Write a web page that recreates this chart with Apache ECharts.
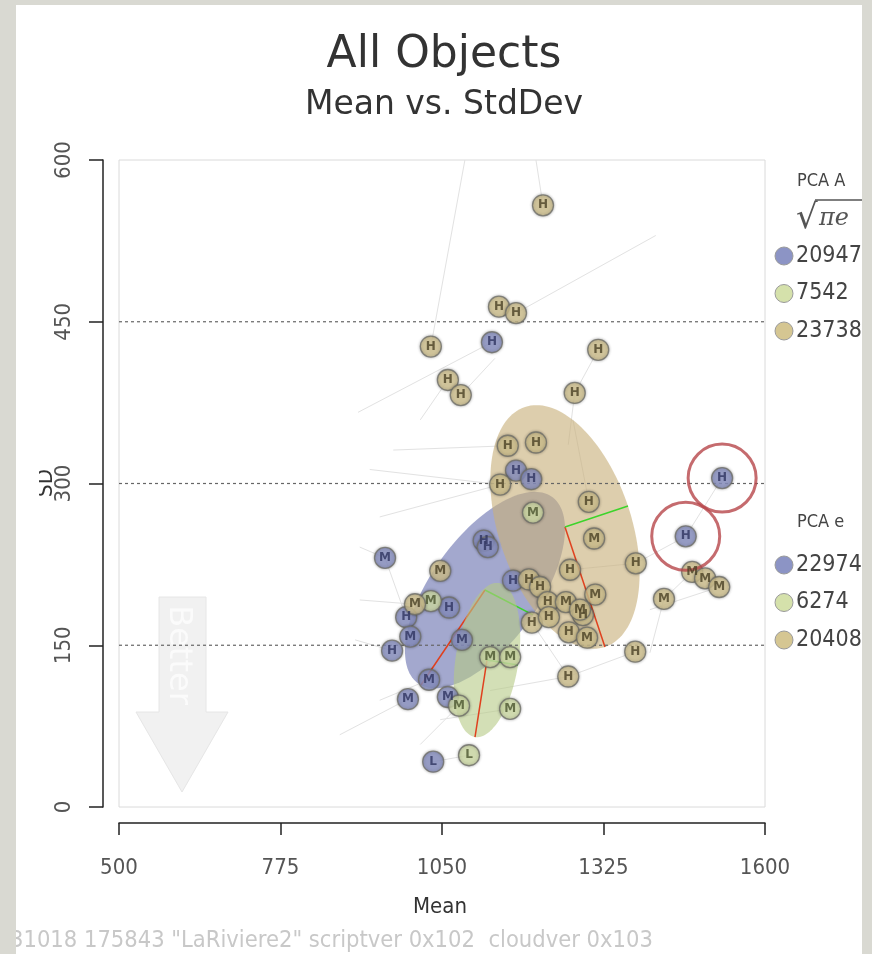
<!DOCTYPE html>
<html>
<head>
<meta charset="utf-8">
<script src="https://cdn.jsdelivr.net/npm/echarts@6/dist/echarts.min.js"></script>
<style>
  html, body { margin: 0; padding: 0; background: #d9d9d2; }
  #chart { width: 872px; height: 954px; }
</style>
</head>
<body>
<div id="chart"></div>
<script>
// Axis ticks and reference levels
const xTicks = [500, 775, 1050, 1325, 1600];
const yTicks = [0, 150, 300, 450, 600];
const refLines = [150, 300, 450];

// Objects per cluster: [mean, stdDev, class letter]
const clusterBlue = [
  [1135, 431, 'H'], [1121, 247, 'H'], [1128, 241, 'H'], [953, 231, 'M'],
  [1171, 210, 'H'], [1062, 185, 'H'], [989, 176, 'H'], [996, 158, 'M'],
  [965, 145, 'H'], [1028, 118, 'M'], [992, 100, 'M'], [1060, 102, 'M'],
  [1527, 305, 'H'], [1465, 251, 'H'], [1176, 312, 'H'], [1202, 304, 'H'],
  [1084, 155, 'M'], [1035, 42, 'L']
];
const clusterGreen = [
  [1031, 191, 'M'], [1132, 139, 'M'], [1166, 139, 'M'], [1079, 94, 'M'],
  [1166, 91, 'M'], [1096, 48, 'L'], [1205, 273, 'M']
];
const clusterTan = [
  [1222, 558, 'H'], [1147, 464, 'H'], [1176, 458, 'H'], [1031, 427, 'H'],
  [1316, 424, 'H'], [1060, 396, 'H'], [1082, 382, 'H'], [1276, 384, 'H'],
  [1162, 335, 'H'], [1210, 338, 'H'], [1149, 299, 'H'], [1300, 283, 'H'],
  [1309, 249, 'M'], [1380, 226, 'H'], [1047, 219, 'M'], [1268, 220, 'H'],
  [1198, 211, 'H'], [1217, 204, 'H'], [1230, 190, 'H'], [1261, 190, 'M'],
  [1290, 178, 'H'], [1311, 197, 'M'], [1004, 188, 'M'], [1203, 171, 'H'],
  [1266, 162, 'H'], [1297, 157, 'M'], [1428, 193, 'M'], [1379, 144, 'H'],
  [1265, 121, 'H'], [1476, 218, 'M'], [1498, 212, 'M'], [1522, 204, 'M'],
  [1232, 176, 'H'], [1285, 183, 'M']
];
// Objects singled out with a ring (indices into clusterBlue)
const flaggedIdx = [12, 13];

// Principal-component ellipses: [centre mean, centre sd, major end mean, major end sd, minor end mean, minor end sd]
const ellipseBlue = [1123.2, 201.2, 1014.2, 113.1, 1204.9, 178.1];
const ellipseGreen = [1126.6, 136.3, 1106.2, 64.9, 1179.4, 131.7];
const ellipseTan = [1259.4, 259.7, 1327.5, 148.4, 1366.7, 279.1];

// Faint neighbour links: [mean1, sd1, mean2, sd2]
const links = [
  [1031, 427, 1089, 600], [1222, 558, 1210, 600], [1176, 458, 1414, 530],
  [1135, 431, 907, 366], [1316, 424, 1276, 384], [1276, 384, 1265, 336],
  [1082, 382, 1140, 416], [1060, 396, 1013, 359], [1162, 335, 967, 331],
  [1149, 299, 944, 269], [953, 231, 910, 241], [1527, 305, 1465, 251],
  [1465, 251, 1380, 226], [1428, 193, 1404, 143], [1379, 144, 1265, 121],
  [1265, 121, 1132, 108], [992, 100, 876, 67], [965, 145, 902, 155],
  [1476, 218, 1428, 193], [1300, 283, 1273, 359], [1380, 226, 1268, 220],
  [1166, 91, 1047, 81], [1028, 118, 944, 99], [1149, 299, 927, 313],
  [953, 231, 989, 176], [1004, 188, 910, 192], [1035, 42, 1096, 48],
  [1079, 94, 1013, 58], [1203, 171, 1265, 121], [1522, 204, 1404, 183]
];

// Legend blocks
const legendTopTitle = 'PCA A';
const legendTopValues = ['20947', '7542', '23738'];
const legendBottomTitle = 'PCA e';
const legendBottomValues = ['22974', '6274', '20408'];
const footerText = '31018 175843 "LaRiviere2" scriptver 0x102  cloudver 0x103';

const FONT = "'DejaVu Sans Condensed', 'DejaVu Sans', sans-serif";
const TITLE_FONT = "'DejaVu Sans', sans-serif";
const COLORS = { blue: '#8c94c5', green: '#d5e1ab', tan: '#d5c692' };

function pointSeries(data, color, letterColor) {
  return {
    type: 'scatter',
    data: data,
    encode: { x: 0, y: 1 },
    symbol: 'circle',
    symbolSize: 21,
    silent: true,
    itemStyle: {
      color: color, borderColor: '#6e6e68', borderWidth: 1.3,
      shadowBlur: 3, shadowColor: 'rgba(0,0,0,0.35)'
    },
    label: {
      show: true, position: 'inside', formatter: p => p.value[2],
      fontSize: 12, fontWeight: 'bold', fontFamily: TITLE_FONT, color: letterColor
    }
  };
}

function ellipseSeries(e, fill) {
  return {
    type: 'custom',
    data: [e],
    encode: { x: [0, 2, 4], y: [1, 3, 5] },
    silent: true,
    renderItem: function (params, api) {
      const c = [api.value(0), api.value(1)];
      const m = [api.value(2), api.value(3)];
      const n = [api.value(4), api.value(5)];
      const pts = [];
      for (let i = 0; i <= 144; i++) {
        const t = i / 144 * Math.PI * 2;
        pts.push(api.coord([
          c[0] + (m[0] - c[0]) * Math.cos(t) + (n[0] - c[0]) * Math.sin(t),
          c[1] + (m[1] - c[1]) * Math.cos(t) + (n[1] - c[1]) * Math.sin(t)
        ]));
      }
      const pc = api.coord(c), pm = api.coord(m), pn = api.coord(n);
      return {
        type: 'group',
        children: [
          { type: 'polygon', shape: { points: pts }, style: { fill: fill } },
          { type: 'line', shape: { x1: pc[0], y1: pc[1], x2: pm[0], y2: pm[1] },
            style: { stroke: '#e0401e', lineWidth: 1.5 } },
          { type: 'line', shape: { x1: pc[0], y1: pc[1], x2: pn[0], y2: pn[1] },
            style: { stroke: '#3cd42a', lineWidth: 1.5 } }
        ]
      };
    }
  };
}

const chart = echarts.init(document.getElementById('chart'), null, { renderer: 'canvas' });

const graphics = [];
// "Better" hint arrow
graphics.push({
  type: 'polygon', z: 1,
  shape: { points: [[159, 597], [206, 597], [206, 712], [228, 712], [182, 792], [136, 712], [159, 712]] },
  style: { fill: '#f1f1f1', stroke: '#e6e6e6', lineWidth: 1 }
});
graphics.push({
  type: 'text', z: 2, x: 178, y: 655, rotation: -Math.PI / 2,
  style: { text: 'Better', font: "32px 'DejaVu Sans', sans-serif", fill: '#fbfbfb', align: 'center', verticalAlign: 'middle' }
});
// Axis names
graphics.push({
  type: 'text', z: 5, x: 440, y: 907,
  style: { text: 'Mean', font: '22px ' + FONT, fill: '#333', align: 'center', verticalAlign: 'middle' }
});
graphics.push({
  type: 'text', z: 5, x: 46, y: 483, rotation: Math.PI / 2,
  style: { text: 'SD', font: '22px ' + FONT, fill: '#333', align: 'center', verticalAlign: 'middle' }
});
// the axis name sits partly outside the printable strip
graphics.push({ type: 'rect', z: 6, shape: { x: 16, y: 460, width: 23, height: 50 }, style: { fill: '#fff' } });
// Legend blocks
function legendBlock(title, values, yTitle, yFirst, withFormula) {
  graphics.push({ type: 'text', z: 5, x: 797, y: yTitle,
    style: { text: title, font: '18px ' + FONT, fill: '#444', align: 'left', verticalAlign: 'middle' } });
  if (withFormula) {
    graphics.push({ type: 'text', z: 5, x: 796, y: 219,
      style: { text: '\u221A', font: "34px 'DejaVu Serif', serif", fill: '#555', align: 'left', verticalAlign: 'middle' } });
    graphics.push({ type: 'line', z: 5, shape: { x1: 815, y1: 200, x2: 872, y2: 200 },
      style: { stroke: '#555', lineWidth: 1.4 } });
    graphics.push({ type: 'text', z: 5, x: 819, y: 219,
      style: { text: '\u03C0e', font: "italic 24px 'DejaVu Serif', serif", fill: '#555', align: 'left', verticalAlign: 'middle' } });
  }
  const cols = [COLORS.blue, COLORS.green, COLORS.tan];
  values.forEach((v, i) => {
    const y = yFirst + i * 37.5;
    graphics.push({ type: 'circle', z: 5, shape: { cx: 784, cy: y, r: 9 },
      style: { fill: cols[i], stroke: '#9a9a9a', lineWidth: 1 } });
    graphics.push({ type: 'text', z: 5, x: 796, y: y,
      style: { text: v, font: '23px ' + FONT, fill: '#444', align: 'left', verticalAlign: 'middle' } });
  });
}
legendBlock(legendTopTitle, legendTopValues, 181, 256, true);
legendBlock(legendBottomTitle, legendBottomValues, 522, 565, false);
// Footer
graphics.push({ type: 'text', z: 5, x: 10, y: 941,
  style: { text: footerText, font: '23.5px ' + FONT, fill: '#c8c8c8', align: 'left', verticalAlign: 'middle' } });
// Outer frame
graphics.push({ type: 'rect', z: 100, shape: { x: 0, y: 0, width: 16, height: 954 }, style: { fill: '#d9d9d2' } });
graphics.push({ type: 'rect', z: 100, shape: { x: 0, y: 0, width: 872, height: 5 }, style: { fill: '#d9d9d2' } });
graphics.push({ type: 'rect', z: 100, shape: { x: 862, y: 0, width: 10, height: 954 }, style: { fill: '#d9d9d2' } });

const option = {
  backgroundColor: '#ffffff',
  animation: false,
  title: [
    { text: 'All Objects', left: 439, top: 29, textAlign: 'center',
      textStyle: { fontSize: 44, fontWeight: 'normal', color: '#333', fontFamily: TITLE_FONT } },
    { text: 'Mean vs. StdDev', left: 439, top: 84, textAlign: 'center',
      textStyle: { fontSize: 33, fontWeight: 'normal', color: '#333', fontFamily: TITLE_FONT } }
  ],
  grid: {
    left: 119, right: 107, top: 160, bottom: 147,
    show: true, borderColor: '#dadada', borderWidth: 1, backgroundColor: '#fff'
  },
  xAxis: {
    type: 'value', min: 500, max: 1600, offset: 16,
    axisLine: { show: true, onZero: false, lineStyle: { color: '#222', width: 1.5 } },
    axisTick: { show: true, length: 12, customValues: xTicks, lineStyle: { color: '#222', width: 1.5 } },
    axisLabel: { customValues: xTicks, margin: 34, fontSize: 22, color: '#555', fontFamily: FONT,
      formatter: v => String(v) },
    splitLine: { show: false }
  },
  yAxis: {
    type: 'value', min: 0, max: 600, offset: 16,
    axisLine: { show: true, onZero: false, lineStyle: { color: '#222', width: 1.5 } },
    axisTick: { show: true, length: 14, customValues: yTicks, lineStyle: { color: '#222', width: 1.5 } },
    axisLabel: { customValues: yTicks, rotate: 90, margin: 28, fontSize: 22, color: '#555', fontFamily: FONT,
      formatter: v => String(v) },
    splitLine: { show: false }
  },
  graphic: graphics,
  series: [
    {
      type: 'custom', data: links, silent: true,
      encode: { x: [0, 2], y: [1, 3] },
      renderItem: function (params, api) {
        const a = api.coord([api.value(0), api.value(1)]);
        const b = api.coord([api.value(2), api.value(3)]);
        return { type: 'line', shape: { x1: a[0], y1: a[1], x2: b[0], y2: b[1] },
          style: { stroke: '#e2e2e2', lineWidth: 1 } };
      }
    },
    pointSeries(clusterBlue, COLORS.blue, '#2f3560'),
    ellipseSeries(ellipseBlue, 'rgba(106,114,176,0.62)'),
    pointSeries(clusterGreen, COLORS.green, '#4b5530'),
    ellipseSeries(ellipseGreen, 'rgba(181,201,134,0.6)'),
    pointSeries(clusterTan, COLORS.tan, '#4a4126'),
    ellipseSeries(ellipseTan, 'rgba(200,176,122,0.62)'),
    {
      type: 'custom', data: refLines, silent: true,
      encode: { y: 0 },
      renderItem: function (params, api) {
        const v = api.value(0);
        const a = api.coord([500, v]);
        const b = api.coord([1600, v]);
        return { type: 'line', shape: { x1: a[0], y1: a[1], x2: b[0], y2: b[1] },
          style: { stroke: '#666', lineWidth: 1.2, lineDash: [3, 3] } };
      }
    },
    {
      type: 'scatter', silent: true,
      data: flaggedIdx.map(i => [clusterBlue[i][0], clusterBlue[i][1]]),
      symbol: 'circle', symbolSize: 68,
      itemStyle: { color: 'rgba(0,0,0,0)', borderColor: '#b6464a', borderWidth: 3 }
    }
  ]
};
chart.setOption(option);
</script>
</body>
</html>
